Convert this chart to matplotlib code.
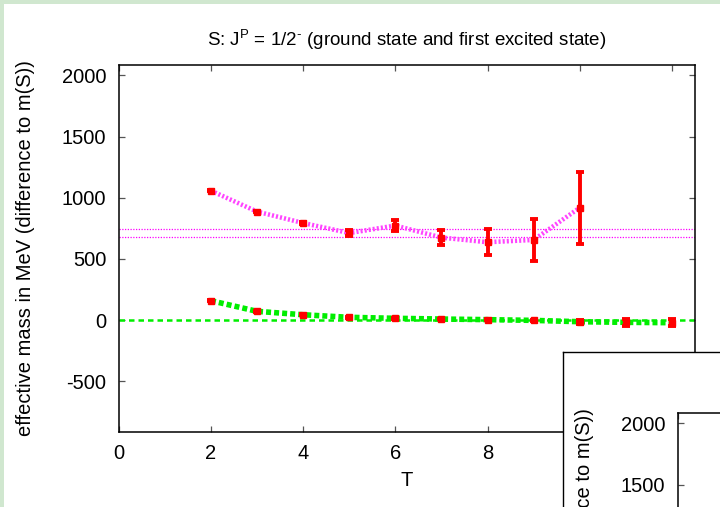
import matplotlib
matplotlib.use("Agg")
import matplotlib.pyplot as plt

plt.rcParams['font.family'] = ['Liberation Sans', 'DejaVu Sans']
plt.rcParams['mathtext.fontset'] = 'custom'
plt.rcParams['mathtext.rm'] = 'Liberation Sans'
plt.rcParams['mathtext.it'] = 'Liberation Sans:italic'
plt.rcParams['mathtext.bf'] = 'Liberation Sans:bold'
plt.rcParams['axes.unicode_minus'] = False

# ---- data -------------------------------------------------------------
T_excited = [2, 3, 4, 5, 6, 7, 8, 9, 10]
m_excited = [1057, 886, 793, 711, 772, 674, 636, 655, 918]
err_excited = [5, 6, 8, 26, 47, 61, 108, 171, 295]

T_ground = [2, 3, 4, 5, 6, 7, 8, 9, 10, 11, 12]
m_ground = [158, 71, 43, 22, 14, 8, 3, -3, -14, -19, -22]
err_ground = [3, 3, 3, 3, 3, 3, 3, 4, 18, 26, 30]

fit_excited = 711
fit_excited_err = 31
fit_ground = 0

x_ticks = [0, 2, 4, 6, 8, 10, 12]
y_ticks = [-500, 0, 500, 1000, 1500, 2000]

title = r"S: J$^{\mathrm{P}}$ = 1/2$^{\mathrm{\text{-}}}$ (ground state and first excited state)"
xlabel = "T"
ylabel = "effective mass in MeV (difference to m(S))"

# ---- layout -----------------------------------------------------------
W, H = 720, 507
fig = plt.figure(figsize=(W / 100, H / 100), dpi=100)
fig.patch.set_facecolor('#d0e7cf')

FS = 14.5
FS_TITLE = 13.5


def px_rect(x, y, w, h):
    """Pixel box (top-left origin) -> figure fraction rect."""
    return [x / W, 1 - (y + h) / H, w / W, h / H]


def draw_panel(ox, oy, z, border):
    panel = fig.add_axes(px_rect(4 + ox, 4 + oy, 760, 560))
    panel.set_zorder(z)
    panel.set_xticks([])
    panel.set_yticks([])
    panel.set_facecolor('white')
    for s in panel.spines.values():
        s.set_visible(border)
        s.set_color('black')
        s.set_linewidth(1.0)

    ax = fig.add_axes(px_rect(118.7 + ox, 64.7 + oy, 576.3, 367.0))
    ax.set_zorder(z + 1)
    ax.set_facecolor('white')
    ax.set_xlim(0, 12.5)
    ax.set_ylim(-913, 2087)

    # fit bands
    ax.axhline(fit_excited + fit_excited_err, color='#ff00ff', lw=0.9,
               ls=(0, (1, 1.2)), zorder=2)
    ax.axhline(fit_excited - fit_excited_err, color='#ff00ff', lw=0.9,
               ls=(0, (1, 1.2)), zorder=2)
    ax.axhline(fit_ground, color='#00ee00', lw=1.8, ls=(0, (2.2, 1.6)), zorder=2)

    # effective-mass curves
    ax.plot(T_excited, m_excited, color='#ff44ff', lw=3.3,
            ls=(0, (0.45, 0.45)), zorder=3)
    ax.plot(T_ground, m_ground, color='#00ee00', lw=4.0,
            ls=(0, (0.9, 0.55)), zorder=3)

    # data points with errors
    for T, m, e in ((T_excited, m_excited, err_excited),
                    (T_ground, m_ground, err_ground)):
        ax.errorbar(T, m, yerr=e, fmt='s', color='#ff0000', ms=4.6,
                    mec='#ff0000', elinewidth=2.8, capsize=2.6,
                    capthick=2.8, zorder=4)

    ax.set_xticks(x_ticks)
    ax.set_yticks(y_ticks)
    ax.tick_params(direction='in', length=4.5, width=0.9, color='#555555',
                   top=True, right=True, labelsize=FS, labelcolor='black')
    ax.tick_params(axis='x', pad=9)
    ax.tick_params(axis='y', pad=9)
    for s in ax.spines.values():
        s.set_linewidth(1.1)
        s.set_color('black')

    ax.annotate(title, xy=(0.5, 1), xycoords='axes fraction',
                xytext=(0, 24.7 * 0.72), textcoords='offset points',
                ha='center', va='center', fontsize=FS_TITLE,
                annotation_clip=False)
    ax.text((25 - 118.7) / 576.3, 0.5, ylabel, transform=ax.transAxes,
            rotation=90, ha='center', va='center', fontsize=FS)
    ax.text(0.5, -49.3 / 367.0, xlabel, transform=ax.transAxes,
            ha='center', va='center', fontsize=FS)
    return ax


draw_panel(0, 0, 0, border=False)
draw_panel(559, 348, 10, border=True)

fig.savefig('out.png', dpi=100, facecolor=fig.get_facecolor())
